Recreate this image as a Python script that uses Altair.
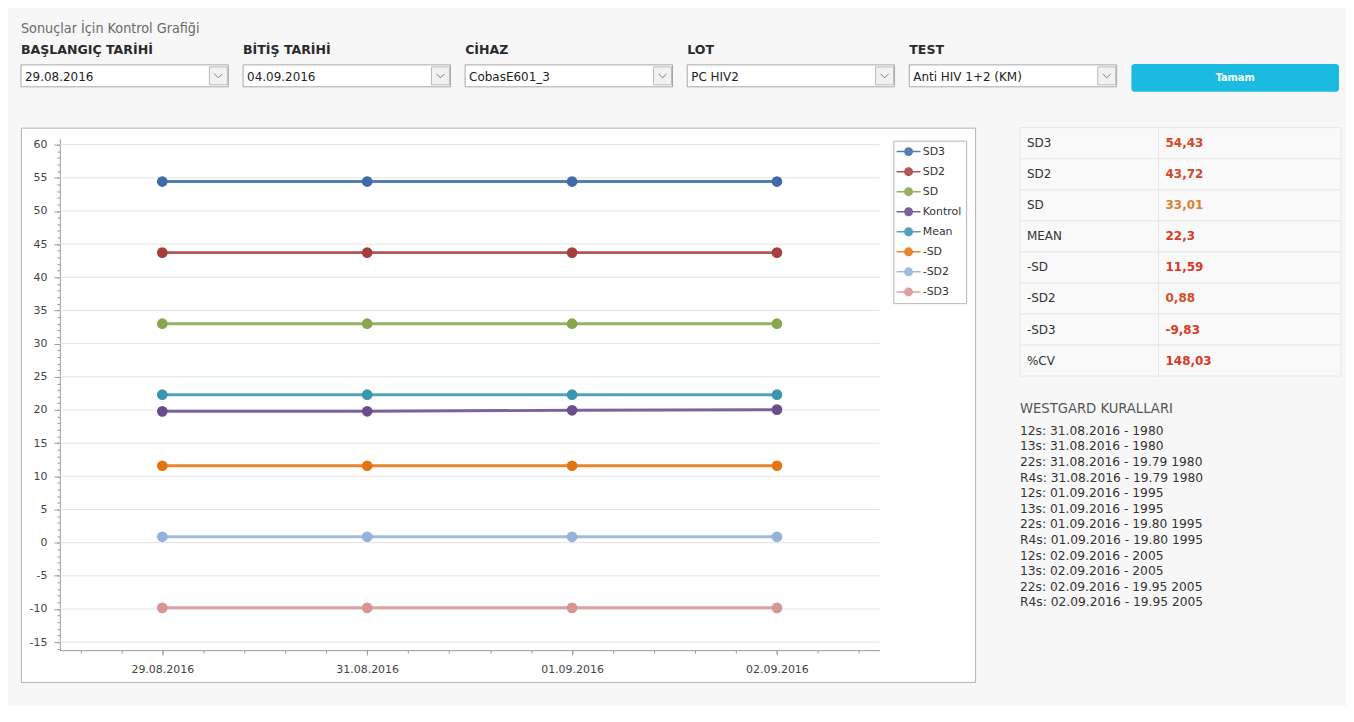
import altair as alt
import pandas as pd

# ---------------- data ----------------
dates = ["29.08.2016", "31.08.2016", "01.09.2016", "02.09.2016"]
series_names = ["SD3", "SD2", "SD", "Kontrol", "Mean", "-SD", "-SD2", "-SD3"]
sd3_vals = [54.43, 54.43, 54.43, 54.43]
sd2_vals = [43.72, 43.72, 43.72, 43.72]
sd1_vals = [33.01, 33.01, 33.01, 33.01]
kontrol_vals = [19.79, 19.80, 19.95, 20.05]
mean_vals = [22.3, 22.3, 22.3, 22.3]
msd1_vals = [11.59, 11.59, 11.59, 11.59]
msd2_vals = [0.88, 0.88, 0.88, 0.88]
msd3_vals = [-9.83, -9.83, -9.83, -9.83]
series_values = [sd3_vals, sd2_vals, sd1_vals, kontrol_vals, mean_vals,
                 msd1_vals, msd2_vals, msd3_vals]
series_colors = ["#3F6BA7", "#A63F3C", "#88A64D", "#6B4D8D", "#3A96AE",
                 "#E4740F", "#94B2DB", "#D59695"]
y_ticks = list(range(-15, 61, 5))

stat_labels = ["SD3", "SD2", "SD", "MEAN", "-SD", "-SD2", "-SD3", "%CV"]
stat_values = [54.43, 43.72, 33.01, 22.3, 11.59, 0.88, -9.83, 148.03]
stat_colors = ["#D4472A", "#D4472A", "#DB7F30", "#D63B24", "#D63B24",
               "#D54E2B", "#D63B24", "#D63B24"]

westgard_title = "WESTGARD KURALLARI"
westgard_lines = [
    "12s: 31.08.2016 - 1980",
    "13s: 31.08.2016 - 1980",
    "22s: 31.08.2016 - 19.79 1980",
    "R4s: 31.08.2016 - 19.79 1980",
    "12s: 01.09.2016 - 1995",
    "13s: 01.09.2016 - 1995",
    "22s: 01.09.2016 - 19.80 1995",
    "R4s: 01.09.2016 - 19.80 1995",
    "12s: 02.09.2016 - 2005",
    "13s: 02.09.2016 - 2005",
    "22s: 02.09.2016 - 19.95 2005",
    "R4s: 02.09.2016 - 19.95 2005",
]
page_title = "Sonuçlar İçin Kontrol Grafiği"
field_labels = ["BAŞLANGIÇ TARİHİ", "BİTİŞ TARİHİ", "CİHAZ", "LOT", "TEST"]
field_values = ["29.08.2016", "04.09.2016", "CobasE601_3", "PC HIV2", "Anti HIV 1+2 (KM)"]
button_text = "Tamam"

# ---------------- fonts ----------------
F_MAIN = "DejaVu Sans"
F_NARROW = "DejaVu Sans Condensed, Liberation Sans Narrow, sans-serif"

# ================= header =================
HW, HH = 1322, 82
hx = alt.Scale(domain=[0, HW], range=[0, HW], nice=False, zero=False)
hy = alt.Scale(domain=[0, HH], range=[0, HH], nice=False, zero=False)
STEP = 222.75
BOX_W = 208

fields = pd.DataFrame({"label": field_labels, "value": field_values,
                       "i": list(range(len(field_labels)))})
fbase = alt.Chart(fields).transform_calculate(
    x0=f"datum.i*{STEP}", x1=f"datum.i*{STEP}+{BOX_W}",
    b0=f"datum.i*{STEP}+{BOX_W - 19}", b1=f"datum.i*{STEP}+{BOX_W - 1}",
    bc=f"datum.i*{STEP}+{BOX_W - 10}", tx=f"datum.i*{STEP}+4",
    ly="44.5", by0="55", by1="77", sy0="57", sy1="75", sc="66", ty="71",
)

h_title = alt.Chart(pd.DataFrame({"t": [page_title]})).transform_calculate(
    x="0", y="23").mark_text(
    align="left", baseline="alphabetic", font=F_NARROW, fontSize=14.3,
    color="#6a6a6a").encode(
    x=alt.X("x:Q", scale=hx, axis=None), y=alt.Y("y:Q", scale=hy, axis=None),
    text="t:N")

h_labels = fbase.mark_text(
    align="left", baseline="alphabetic", font=F_MAIN, fontSize=12.6,
    fontWeight="bold", color="#2a2a2a").encode(
    x=alt.X("x0:Q", scale=hx, axis=None), y=alt.Y("ly:Q", scale=hy, axis=None),
    text="label:N")

h_boxes = fbase.mark_rect(fill="white", stroke="#a8a8a8", strokeWidth=1).encode(
    x=alt.X("x0:Q", scale=hx, axis=None), x2="x1:Q",
    y=alt.Y("by0:Q", scale=hy, axis=None), y2="by1:Q")

h_squares = fbase.mark_rect(fill="#f2f2f2", stroke="#b9b9b9", strokeWidth=1).encode(
    x=alt.X("b0:Q", scale=hx, axis=None), x2="b1:Q",
    y=alt.Y("sy0:Q", scale=hy, axis=None), y2="sy1:Q")

h_chev = fbase.mark_point(shape="M-1,-0.5L0,0.5L1,-0.5", filled=False, size=64,
                          color="#7c7c7c", strokeWidth=1, opacity=1).encode(
    x=alt.X("bc:Q", scale=hx, axis=None), y=alt.Y("sc:Q", scale=hy, axis=None))

h_values = fbase.mark_text(
    align="left", baseline="alphabetic", font=F_MAIN, fontSize=12,
    color="#222222").encode(
    x=alt.X("tx:Q", scale=hx, axis=None), y=alt.Y("ty:Q", scale=hy, axis=None),
    text="value:N")

btn = alt.Chart(pd.DataFrame({"t": [button_text]})).transform_calculate(
    x0=f"{5 * STEP}", x1=f"{HW}", xc=f"({5 * STEP}+{HW})/2", y0="54", y1="82", yc="68")
h_btn = btn.mark_rect(fill="#1BBBE1", cornerRadius=3).encode(
    x=alt.X("x0:Q", scale=hx, axis=None), x2="x1:Q",
    y=alt.Y("y0:Q", scale=hy, axis=None), y2="y1:Q")
h_btn_t = btn.mark_text(font=F_NARROW, fontSize=11, fontWeight="bold",
                        color="white", baseline="middle", align="center").encode(
    x=alt.X("xc:Q", scale=hx, axis=None), y=alt.Y("yc:Q", scale=hy, axis=None),
    text="t:N")

header = alt.layer(h_title, h_labels, h_boxes, h_squares, h_chev, h_values,
                   h_btn, h_btn_t).properties(width=HW, height=HH)

# ================= main chart =================
rows = []
for s, vals in zip(series_names, series_values):
    for i, v in enumerate(vals):
        rows.append({"series": s, "i": i, "date": dates[i], "v": v})
df = pd.DataFrame(rows)

MW, MH = 957, 556
x_lo, x_hi = -0.5, len(dates) - 0.5
x_scale = alt.Scale(domain=[x_lo, x_hi], range=[39, 861], nice=False, zero=False)
y_scale = alt.Scale(domain=[-16.2, 60.9], range=[524, 11], nice=False, zero=False)

label_expr = "[" + ",".join(f"'{d}'" for d in dates) + "][datum.value]"
AX = "#9c9c9c"
x_axis_major = alt.Axis(orient="bottom", offset=-32, values=list(range(len(dates))),
                        labelExpr=label_expr, tickSize=5, grid=False, title=None,
                        domainColor=AX, tickColor=AX, labelColor="#444444",
                        labelFont=F_MAIN, labelFontSize=11, labelPadding=8,
                        labelFlush=False, labelOverlap=False)
x_axis_minor = alt.Axis(orient="bottom", offset=-32,
                        values=[round(-0.4 + 0.2 * k, 2) for k in range(20)],
                        tickSize=3, labels=False, domain=False, grid=False,
                        title=None, tickColor=AX)
y_axis_major = alt.Axis(orient="left", offset=-39, values=y_ticks, tickSize=6,
                        grid=False, title=None, domainColor=AX, tickColor=AX,
                        labelExpr="toString(datum.value)",
                        labelColor="#444444", labelFont=F_MAIN, labelFontSize=11,
                        labelPadding=7, labelFlush=False, labelOverlap=False)
y_axis_minor = alt.Axis(orient="left", offset=-39, values=list(range(-16, 61)),
                        tickSize=3, labels=False, domain=False, grid=False,
                        title=None, tickColor=AX)

# legend symbol: short line + filled dot (concentric rings of stroke)
ring_path = "M-2,0L2,0"
for r in [0.625, 0.375, 0.125]:
    ring_path += f"M{r},0A{r},{r},0,1,1,{-r},0A{r},{r},0,1,1,{r},0"

legend = alt.Legend(orient="none", legendX=875, legendY=13, title=None,
                    direction="vertical", symbolType=ring_path, symbolSize=144,
                    symbolStrokeWidth=1.5, symbolOffset=4.25, labelOffset=7.2,
                    labelFont=F_MAIN, labelFontSize=11, labelColor="#333333",
                    rowPadding=6.1, padding=4, strokeColor="#b4b4b4",
                    fillColor="white", cornerRadius=0)

color_line = alt.Color("series:N", sort=series_names,
                       scale=alt.Scale(domain=series_names, range=series_colors),
                       legend=legend)
color_pt = alt.Color("series:N", sort=series_names,
                     scale=alt.Scale(domain=series_names, range=series_colors),
                     legend=None)

grid = alt.Chart(pd.DataFrame({"v": y_ticks})).transform_calculate(
    x0=str(x_lo), x1=str(x_hi)).mark_rule(color="#e3e3e3", strokeWidth=1).encode(
    x=alt.X("x0:Q", scale=x_scale, axis=x_axis_major), x2="x1:Q",
    y=alt.Y("v:Q", scale=y_scale, axis=y_axis_major))

lines = alt.Chart(df).mark_line(strokeWidth=3, opacity=0.88).encode(
    x=alt.X("i:Q", scale=x_scale, axis=None),
    y=alt.Y("v:Q", scale=y_scale, axis=None),
    color=color_line)

points = alt.Chart(df).mark_circle(size=115, opacity=1).encode(
    x=alt.X("i:Q", scale=x_scale, axis=x_axis_minor),
    y=alt.Y("v:Q", scale=y_scale, axis=y_axis_minor),
    color=color_pt)

main = alt.layer(grid, lines, points).resolve_axis(
    x="independent", y="independent").properties(
    width=MW, height=MH,
    view=alt.ViewBackground(fill="white", stroke="#b2b2b2", strokeWidth=1))

# ================= right panel =================
RW, RH = 322, 556
rx = alt.Scale(domain=[0, RW], range=[0, RW], nice=False, zero=False)
ry = alt.Scale(domain=[0, RH], range=[0, RH], nice=False, zero=False)
ROW_H = 31.15
SPLIT = 139


def fmt(v):
    return str(v).replace(".", ",")


stats = pd.DataFrame({"label": stat_labels, "value": [fmt(v) for v in stat_values],
                      "i": list(range(len(stat_labels)))})
cells = pd.DataFrame([{"i": i, "c": c} for i in range(len(stat_labels)) for c in range(2)])

r_cells = alt.Chart(cells).transform_calculate(
    x0=f"datum.c==0 ? 0 : {SPLIT}", x1=f"datum.c==0 ? {SPLIT} : {RW}",
    y0=f"datum.i*{ROW_H}", y1=f"(datum.i+1)*{ROW_H}").mark_rect(
    fill="#f9f9f9", stroke="#e7e7e7", strokeWidth=1).encode(
    x=alt.X("x0:Q", scale=rx, axis=None), x2="x1:Q",
    y=alt.Y("y0:Q", scale=ry, axis=None), y2="y1:Q")

sbase = alt.Chart(stats).transform_calculate(
    lx="7", vx=f"{SPLIT + 7}", yc=f"(datum.i+0.5)*{ROW_H}")
r_labels = sbase.mark_text(align="left", baseline="middle", font=F_MAIN,
                           fontSize=12, color="#333333").encode(
    x=alt.X("lx:Q", scale=rx, axis=None), y=alt.Y("yc:Q", scale=ry, axis=None),
    text="label:N")
r_values = sbase.mark_text(align="left", baseline="middle", font=F_MAIN,
                           fontSize=12, fontWeight="bold").encode(
    x=alt.X("vx:Q", scale=rx, axis=None), y=alt.Y("yc:Q", scale=ry, axis=None),
    text="value:N",
    color=alt.Color("label:N", scale=alt.Scale(domain=stat_labels, range=stat_colors),
                    legend=None))

r_wtitle = alt.Chart(pd.DataFrame({"t": [westgard_title]})).transform_calculate(
    x="0", y="282").mark_text(align="left", baseline="middle", font=F_NARROW,
                              fontSize=14.7, color="#555555").encode(
    x=alt.X("x:Q", scale=rx, axis=None), y=alt.Y("y:Q", scale=ry, axis=None),
    text="t:N")

wg = pd.DataFrame({"t": westgard_lines, "i": list(range(len(westgard_lines)))})
r_wlines = alt.Chart(wg).transform_calculate(
    x="0", y="304 + datum.i*15.64").mark_text(
    align="left", baseline="middle", font=F_MAIN, fontSize=12.3,
    color="#333333").encode(
    x=alt.X("x:Q", scale=rx, axis=None), y=alt.Y("y:Q", scale=ry, axis=None),
    text="t:N")

right = alt.layer(r_cells, r_labels, r_values, r_wtitle, r_wlines).properties(
    width=RW, height=RH)

# ================= assemble =================
body = alt.hconcat(main, right, spacing=43).resolve_scale(color="independent")
chart = alt.vconcat(header, body, spacing=34).resolve_scale(
    color="independent").properties(
    padding={"left": 12, "top": 0, "right": 4, "bottom": 22},
    background="#f7f7f7").configure_view(stroke="transparent")

chart.save("out.html", embed_options={"renderer": "svg", "actions": False})
